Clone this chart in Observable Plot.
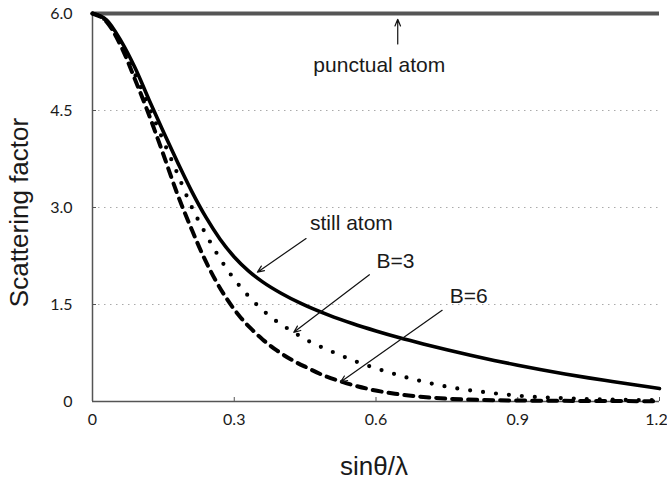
<!DOCTYPE html>
<html><head><meta charset="utf-8">
<script src="https://cdn.jsdelivr.net/npm/d3@7"></script>
<script src="https://cdn.jsdelivr.net/npm/@observablehq/plot@0.6"></script>
<style>body{margin:0;background:#fff} #chart svg{display:block}</style>
</head><body><div id="chart"></div>
<script>
// still atom (solid)
const xStill = [0, 0.03, 0.06, 0.09, 0.12, 0.15, 0.18, 0.21, 0.24, 0.27, 0.3, 0.33, 0.36, 0.4, 0.44, 0.5, 0.55, 0.6, 0.65, 0.7, 0.75, 0.8, 0.85, 0.9, 0.95, 1.0, 1.05, 1.1, 1.15, 1.2];
const yStill = [6.0, 5.9, 5.58, 5.16, 4.66, 4.17, 3.70, 3.25, 2.85, 2.51, 2.235, 2.02, 1.85, 1.67, 1.52, 1.335, 1.205, 1.09, 0.985, 0.89, 0.80, 0.715, 0.635, 0.56, 0.49, 0.425, 0.365, 0.31, 0.255, 0.2];
// B=3 (dotted)
const xB3 = [0, 0.03, 0.06, 0.09, 0.123, 0.15, 0.18, 0.206, 0.236, 0.264, 0.296, 0.334, 0.377, 0.426, 0.451, 0.504, 0.557, 0.61, 0.666, 0.75, 0.835, 0.9, 1.0, 1.1, 1.2];
const yB3 = [6.0, 5.88, 5.53, 5.06, 4.5, 4.03, 3.52, 3.07, 2.64, 2.28, 1.93, 1.6, 1.31, 1.07, 0.96, 0.78, 0.62, 0.49, 0.37, 0.23, 0.14, 0.09, 0.05, 0.03, 0.02];
// B=6 (dashed)
const xB6 = [0, 0.03, 0.06, 0.09, 0.116, 0.15, 0.18, 0.21, 0.235, 0.26, 0.285, 0.31, 0.335, 0.36, 0.39, 0.425, 0.455, 0.49, 0.53, 0.58, 0.64, 0.7, 0.76, 0.85, 1.0, 1.2];
const yB6 = [6.0, 5.87, 5.5, 4.98, 4.5, 3.82, 3.2, 2.66, 2.24, 1.88, 1.58, 1.33, 1.13, 0.96, 0.79, 0.63, 0.52, 0.40, 0.30, 0.20, 0.12, 0.07, 0.04, 0.02, 0.01, 0.005];
// punctual atom
const punctualValue = [6];

const xTicks = [0, 0.3, 0.6, 0.9, 1.2];
const yTicks = [0, 1.5, 3, 4.5, 6];
const gridLevels = [1.5, 3, 4.5];
const xTitle = "sinθ/λ";
const yTitle = "Scattering factor";

// annotations (data units)
const labelText = ["punctual atom", "still atom", "B=3", "B=6"];
const labelX = [0.607, 0.548, 0.641, 0.796];
const labelY = [5.20, 2.75, 2.17, 1.62];
const arrowX1 = [0.646, 0.452, 0.586, 0.740];
const arrowY1 = [5.53, 2.52, 1.96, 1.41];
const arrowX2 = [0.646, 0.349, 0.426, 0.525];
const arrowY2 = [5.91, 2.00, 1.07, 0.30];

const rows = (xs, ys) => xs.map((x, i) => ({x, y: ys[i]}));
const still = rows(xStill, yStill);
const b3 = rows(xB3, yB3);
const b6 = rows(xB6, yB6);
const labels = labelText.map((t, i) => ({t, x: labelX[i], y: labelY[i]}));
const arrows = arrowX1.map((x1, i) => ({x1, y1: arrowY1[i], x2: arrowX2[i], y2: arrowY2[i]}));
const fmt = d => d === 0 ? "0" : d.toFixed(1);
const tickFont = "Lato, 'Open Sans', sans-serif";
const xTicksInner = xTicks.slice(0, -1);
const xTickLast = xTicks.slice(-1);

const chart = Plot.plot({
  width: 667, height: 480,
  marginLeft: 92, marginRight: 8, marginTop: 13, marginBottom: 79,
  x: {domain: [0, 1.2], label: null},
  y: {domain: [0, 6], label: null},
  style: {fontFamily: "'Liberation Sans', Arial, sans-serif", background: "white", color: "#1a1a1a", overflow: "visible"},
  marks: [
    Plot.ruleY(gridLevels, {stroke: "#aaa", strokeDasharray: "1.5,4.5", strokeWidth: 1}),
    Plot.axisY(yTicks, {tickSize: 4, dx: 4, tickFormat: () => "", stroke: "#555", label: null}),
    Plot.axisX(xTicks, {tickSize: 4, dy: -4, tickFormat: () => "", stroke: "#555", label: null}),
    Plot.axisY(yTicks, {tickSize: 0, tickPadding: 20, tickFormat: fmt, fontSize: 16, fontFamily: tickFont, label: null}),
    Plot.axisX(xTicksInner, {tickSize: 0, tickPadding: 12, tickFormat: fmt, fontSize: 16, fontFamily: tickFont, label: null}),
    Plot.axisX(xTickLast, {tickSize: 0, tickPadding: 12, dx: -3, tickFormat: fmt, fontSize: 16, fontFamily: tickFont, label: null}),
    Plot.ruleX([0], {stroke: "#555", strokeWidth: 1.5}),
    Plot.ruleY([0], {stroke: "#555", strokeWidth: 1.5}),
    Plot.ruleY(punctualValue, {stroke: "#555", strokeWidth: 4}),
    Plot.line(b6, {x: "x", y: "y", curve: "monotone-x", stroke: "#000", strokeWidth: 4, strokeDasharray: "9,7"}),
    Plot.line(b3, {x: "x", y: "y", curve: "monotone-x", stroke: "#000", strokeWidth: 4.2, strokeDasharray: "0,13", strokeLinecap: "round"}),
    Plot.line(still, {x: "x", y: "y", curve: "monotone-x", stroke: "#000", strokeWidth: 3.6}),
    Plot.arrow(arrows, {x1: "x1", y1: "y1", x2: "x2", y2: "y2", stroke: "#111", strokeWidth: 1.2, headLength: 9, headAngle: 45}),
    Plot.text(labels, {x: "x", y: "y", text: "t", fontSize: 21, fill: "#1a1a1a"}),
    Plot.text([yTitle], {frameAnchor: "left", textAnchor: "middle", lineAnchor: "middle", dx: -73, dy: 5, rotate: -90, fontSize: 26, fill: "#1a1a1a"}),
    Plot.text([xTitle], {frameAnchor: "bottom", textAnchor: "middle", lineAnchor: "middle", dx: -2, dy: 65, fontSize: 26, fill: "#1a1a1a"})
  ]
});
document.getElementById("chart").append(chart);
</script>
</body></html>
